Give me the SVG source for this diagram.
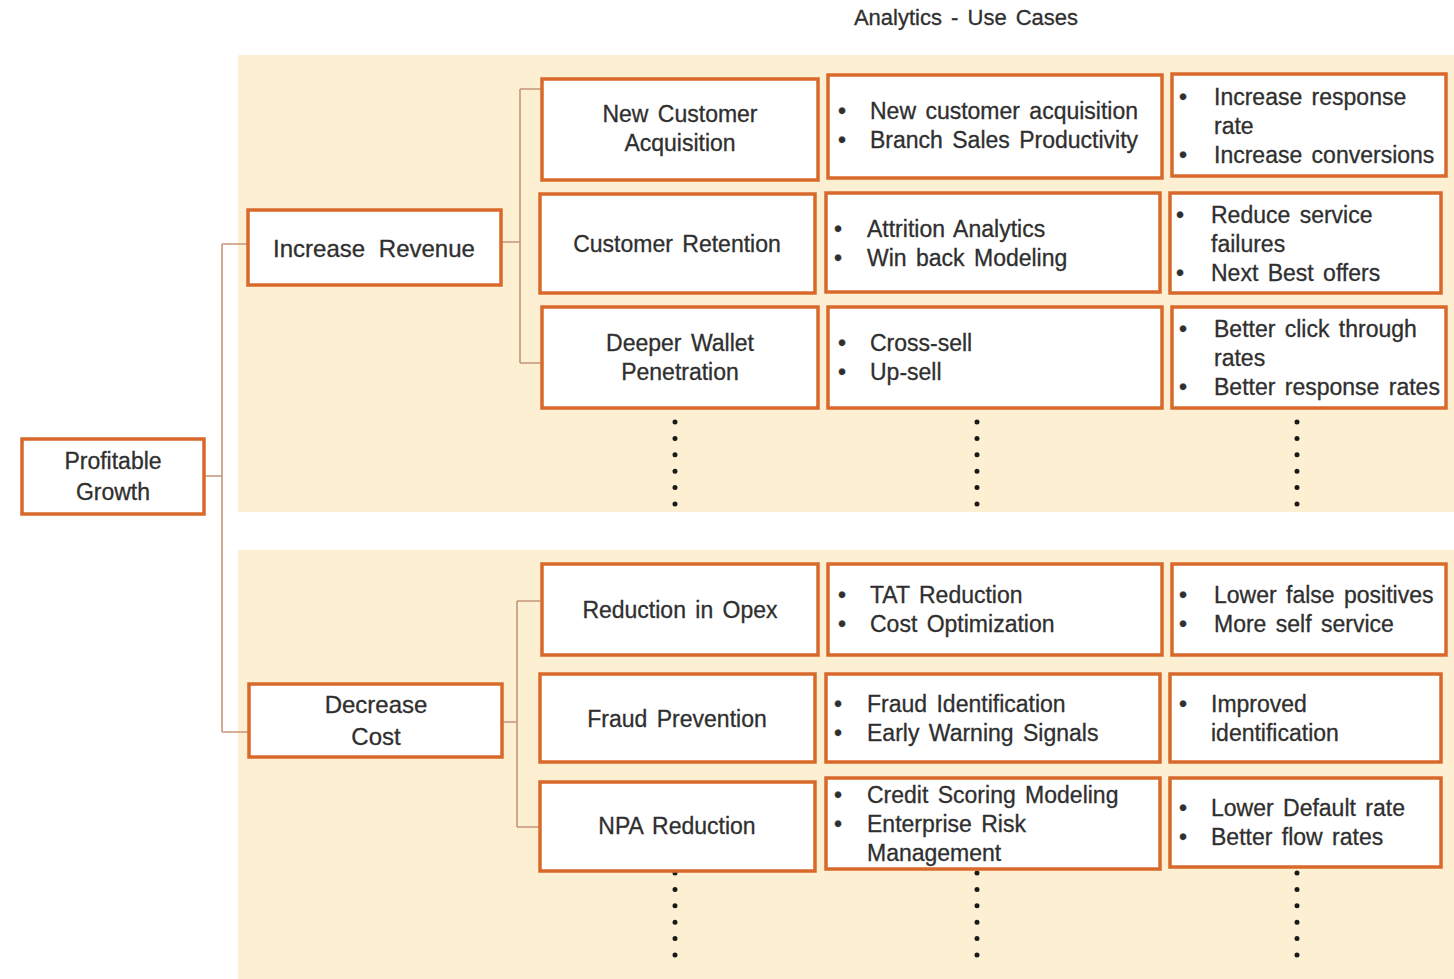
<svg xmlns="http://www.w3.org/2000/svg" width="1454" height="979" viewBox="0 0 1454 979">
<style>
.bg{fill:#FDEFD2}
.box{fill:#FFFFFF;stroke:#D8692B;stroke-width:3.5}
.t{font-family:"Liberation Sans",Arial,sans-serif;font-size:23px;fill:#2f2f2f;word-spacing:3px;stroke:#2f2f2f;stroke-width:0.3}
.c{text-anchor:middle}
.ln{fill:none;stroke:#C4967A;stroke-width:1.6}
.dots{fill:none;stroke:#1a1a1a;stroke-width:5;stroke-linecap:round;stroke-dasharray:0 16.4}
</style>
<rect width="1454" height="979" fill="#FFFFFF"/>
<rect class="bg" x="238" y="55" width="1216" height="457"/>
<rect class="bg" x="238" y="550" width="1216" height="429"/>
<text class="t c" x="966" y="25" style="font-size:22px">Analytics - Use Cases</text>

<g id="connectors">
<path class="ln" d="M204 476H222M222 244V732M222 244H248M222 732H249"/>
<path class="ln" d="M501 242H520M520 89V363M520 89H542M520 363H542"/>
<path class="ln" d="M502 722H517M517 601V827M517 601H540M517 827H540"/>
<path class="dots" d="M675 422V505M977 422V505M1297 422V505"/>
<path class="dots" d="M675 873V956M977 873V956M1297 873V956"/>
</g>

<g id="profitable-growth"><rect class="box" x="22" y="439" width="182" height="75"/>
<text class="t c" x="113" y="469">Profitable</text><text class="t c" x="113" y="500">Growth</text></g>
<g id="increase-revenue"><rect class="box" x="248" y="210" width="253" height="75"/>
<text class="t c" x="374" y="257" style="font-size:24px;word-spacing:7px">Increase Revenue</text></g>
<g id="decrease-cost"><rect class="box" x="249" y="684" width="253" height="73"/>
<text class="t c" x="376" y="713" style="font-size:24px">Decrease</text><text class="t c" x="376" y="745" style="font-size:24px">Cost</text></g>

<g id="new-customer-acquisition"><rect class="box" x="542" y="79" width="276" height="101"/>
<text class="t c" x="680" y="122">New Customer</text><text class="t c" x="680" y="151">Acquisition</text></g>
<g id="nca-usecases"><rect class="box" x="828" y="75" width="334" height="103"/>
<text class="t" x="838" y="119">•</text><text class="t" x="870" y="119">New customer acquisition</text>
<text class="t" x="838" y="148">•</text><text class="t" x="870" y="148">Branch Sales Productivity</text></g>
<g id="nca-outcomes"><rect class="box" x="1172" y="74" width="274" height="102"/>
<text class="t" x="1179" y="105">•</text><text class="t" x="1214" y="105">Increase response</text>
<text class="t" x="1214" y="134">rate</text>
<text class="t" x="1179" y="163">•</text><text class="t" x="1214" y="163">Increase conversions</text></g>

<g id="customer-retention"><rect class="box" x="540" y="194" width="275" height="99"/>
<text class="t c" x="677" y="252">Customer Retention</text></g>
<g id="cr-usecases"><rect class="box" x="826" y="193" width="334" height="99"/>
<text class="t" x="834" y="237">•</text><text class="t" x="867" y="237">Attrition Analytics</text>
<text class="t" x="834" y="266">•</text><text class="t" x="867" y="266">Win back Modeling</text></g>
<g id="cr-outcomes"><rect class="box" x="1170" y="193" width="271" height="100"/>
<text class="t" x="1176" y="223">•</text><text class="t" x="1211" y="223">Reduce service</text>
<text class="t" x="1211" y="252">failures</text>
<text class="t" x="1176" y="281">•</text><text class="t" x="1211" y="281">Next Best offers</text></g>

<g id="deeper-wallet"><rect class="box" x="542" y="307" width="276" height="101"/>
<text class="t c" x="680" y="351">Deeper Wallet</text><text class="t c" x="680" y="380">Penetration</text></g>
<g id="dw-usecases"><rect class="box" x="828" y="307" width="334" height="101"/>
<text class="t" x="838" y="351">•</text><text class="t" x="870" y="351">Cross-sell</text>
<text class="t" x="838" y="380">•</text><text class="t" x="870" y="380">Up-sell</text></g>
<g id="dw-outcomes"><rect class="box" x="1172" y="307" width="274" height="101"/>
<text class="t" x="1179" y="337">•</text><text class="t" x="1214" y="337">Better click through</text>
<text class="t" x="1214" y="366">rates</text>
<text class="t" x="1179" y="395">•</text><text class="t" x="1214" y="395">Better response rates</text></g>

<g id="reduction-opex"><rect class="box" x="542" y="564" width="276" height="91"/>
<text class="t c" x="680" y="618">Reduction in Opex</text></g>
<g id="ro-usecases"><rect class="box" x="828" y="564" width="334" height="91"/>
<text class="t" x="838" y="603">•</text><text class="t" x="870" y="603">TAT Reduction</text>
<text class="t" x="838" y="632">•</text><text class="t" x="870" y="632">Cost Optimization</text></g>
<g id="ro-outcomes"><rect class="box" x="1172" y="564" width="274" height="91"/>
<text class="t" x="1179" y="603">•</text><text class="t" x="1214" y="603">Lower false positives</text>
<text class="t" x="1179" y="632">•</text><text class="t" x="1214" y="632">More self service</text></g>

<g id="fraud-prevention"><rect class="box" x="540" y="674" width="275" height="88"/>
<text class="t c" x="677" y="727">Fraud Prevention</text></g>
<g id="fp-usecases"><rect class="box" x="826" y="674" width="334" height="88"/>
<text class="t" x="834" y="712">•</text><text class="t" x="867" y="712">Fraud Identification</text>
<text class="t" x="834" y="741">•</text><text class="t" x="867" y="741">Early Warning Signals</text></g>
<g id="fp-outcomes"><rect class="box" x="1170" y="674" width="271" height="88"/>
<text class="t" x="1179" y="712">•</text><text class="t" x="1211" y="712">Improved</text>
<text class="t" x="1211" y="741">identification</text></g>

<g id="npa-reduction"><rect class="box" x="540" y="782" width="275" height="89"/>
<text class="t c" x="677" y="834">NPA Reduction</text></g>
<g id="npa-usecases"><rect class="box" x="826" y="778" width="334" height="91"/>
<text class="t" x="834" y="803">•</text><text class="t" x="867" y="803">Credit Scoring Modeling</text>
<text class="t" x="834" y="832">•</text><text class="t" x="867" y="832">Enterprise Risk</text>
<text class="t" x="867" y="861">Management</text></g>
<g id="npa-outcomes"><rect class="box" x="1170" y="778" width="271" height="89"/>
<text class="t" x="1179" y="816">•</text><text class="t" x="1211" y="816">Lower Default rate</text>
<text class="t" x="1179" y="845">•</text><text class="t" x="1211" y="845">Better flow rates</text></g>
</svg>
